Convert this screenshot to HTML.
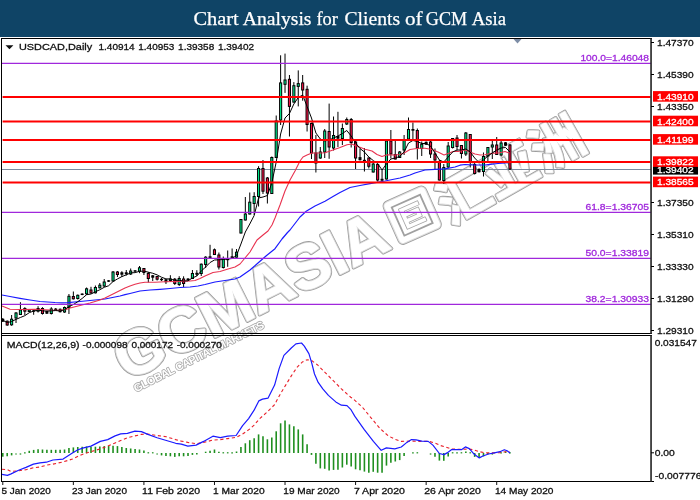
<!DOCTYPE html>
<html lang="en"><head><meta charset="utf-8"><title>Chart Analysis for Clients of GCM Asia</title>
<style>
html,body{margin:0;padding:0;background:#fff;}
body{width:700px;height:500px;overflow:hidden;position:relative;font-family:"Liberation Sans",sans-serif;}
#hdr{position:absolute;left:0;top:0;width:700px;height:37px;background:#0f4466;}
svg{position:absolute;left:0;top:0;}
svg text{font-family:"Liberation Sans",sans-serif;font-size:9.3px;stroke-width:0.3px;}
.wm{font-family:"Liberation Sans","Noto Sans CJK SC",sans-serif;font-weight:bold;fill:#fff;stroke-linejoin:round;paint-order:stroke;}
</style></head><body>
<div id="hdr"></div>
<svg width="700" height="500" viewBox="0 0 700 500">
<text id="title" y="24.7" fill="#fff" style="font-family:'Liberation Serif',serif;font-size:19.7px;stroke:#fff;stroke-width:0.25px"><tspan x="193.4" textLength="45.3" lengthAdjust="spacingAndGlyphs">Chart</tspan> <tspan x="242.7" textLength="68.8" lengthAdjust="spacingAndGlyphs">Analysis</tspan> <tspan x="316.4" textLength="21.4" lengthAdjust="spacingAndGlyphs">for</tspan> <tspan x="344.5" textLength="55.7" lengthAdjust="spacingAndGlyphs">Clients</tspan> <tspan x="404.9" textLength="17.6" lengthAdjust="spacingAndGlyphs">of</tspan> <tspan x="425.8" textLength="41.3" lengthAdjust="spacingAndGlyphs">GCM</tspan> <tspan x="471.7" textLength="34.3" lengthAdjust="spacingAndGlyphs">Asia</tspan></text>
<g id="watermark">
<g transform="translate(127.0,381.4) rotate(-26.7) scale(1.0,1)">
<text class="wm" style="font-size:63px;letter-spacing:0.0px;stroke:#9c9c9c;stroke-width:3.8px" >GCMASIA</text>
<text class="wm" style="font-size:63px;letter-spacing:0.0px;stroke:#dedede;stroke-width:2.2px" >GCMASIA</text>
<text class="wm" style="font-size:63px;letter-spacing:0.0px;stroke:none" >GCMASIA</text>
</g>
<g transform="translate(136.0,392.3) rotate(-26.7)">
<text class="wm" style="font-size:11.0px;letter-spacing:-0.42px;stroke:#a8a8a8;stroke-width:1.6px">GLOBAL CAPITAL MARKETS</text>
</g>
<g transform="translate(412.2,215.2) rotate(-24)">
<rect x="-22" y="-22" width="44" height="44" rx="4" ry="4" fill="#fff" stroke="#9c9c9c" stroke-width="3.8"/>
<rect x="-22" y="-22" width="44" height="44" rx="4" ry="4" fill="#fff" stroke="#dedede" stroke-width="2.2"/>
<rect x="-22" y="-22" width="44" height="44" rx="4" ry="4" fill="#fff"/>
<rect x="-15.5" y="-15.5" width="31" height="31" fill="#fff" stroke="#a0a0a0" stroke-width="1.8"/>
<text class="wm" x="-12.5" y="9.2" style="font-weight:900;font-size:25px;stroke:#a4a4a4;stroke-width:1.6px">巨</text>
</g>
<g transform="translate(450.5,225.5) rotate(-29.5)">
<text class="wm" style="font-weight:700;font-size:52px;letter-spacing:1.5px;stroke:#9c9c9c;stroke-width:3.8px" >汇亚洲</text>
<text class="wm" style="font-weight:700;font-size:52px;letter-spacing:1.5px;stroke:#dedede;stroke-width:2.2px" >汇亚洲</text>
<text class="wm" style="font-weight:700;font-size:52px;letter-spacing:1.5px;stroke:none" >汇亚洲</text>
</g>
</g>
<line x1="2" y1="169.5" x2="651" y2="169.5" stroke="#7c8ca0" stroke-width="1"/>
<g id="candles">
<line x1="2.79" y1="318" x2="2.79" y2="322" stroke="#000" stroke-width="1"/>
<rect x="1.29" y="318.8" width="3" height="2.9" fill="#000"/>
<line x1="7.2" y1="320.5" x2="7.2" y2="325.8" stroke="#000" stroke-width="1"/>
<rect x="5.65" y="320.7" width="3.1" height="4.8" fill="#000"/>
<rect x="6.6" y="321.7" width="1.2" height="2.8" fill="#f01446"/>
<line x1="11.61" y1="315" x2="11.61" y2="325.8" stroke="#000" stroke-width="1"/>
<rect x="10.06" y="318.7" width="3.1" height="6.6" fill="#000"/>
<rect x="11.01" y="319.7" width="1.2" height="4.6" fill="#00e288"/>
<line x1="16.02" y1="312" x2="16.02" y2="323" stroke="#000" stroke-width="1"/>
<rect x="14.47" y="312.5" width="3.1" height="6" fill="#000"/>
<rect x="15.42" y="313.5" width="1.2" height="4" fill="#00e288"/>
<line x1="20.43" y1="302.2" x2="20.43" y2="315" stroke="#000" stroke-width="1"/>
<rect x="18.88" y="309.5" width="3.1" height="5.5" fill="#000"/>
<rect x="19.83" y="310.5" width="1.2" height="3.5" fill="#00e288"/>
<line x1="24.84" y1="307.2" x2="24.84" y2="315" stroke="#000" stroke-width="1"/>
<rect x="23.29" y="308" width="3.1" height="3.7" fill="#000"/>
<rect x="24.24" y="309" width="1.2" height="1.7" fill="#f01446"/>
<line x1="29.25" y1="309.5" x2="29.25" y2="312" stroke="#000" stroke-width="1"/>
<rect x="27.7" y="309.5" width="3.1" height="2.5" fill="#000"/>
<rect x="28.65" y="310.5" width="1.2" height="0.5" fill="#00e288"/>
<line x1="33.66" y1="310" x2="33.66" y2="314.8" stroke="#000" stroke-width="1"/>
<rect x="32.16" y="310.3" width="3" height="1.4" fill="#000"/>
<line x1="38.07" y1="306.2" x2="38.07" y2="312.5" stroke="#000" stroke-width="1"/>
<rect x="36.52" y="308" width="3.1" height="3.7" fill="#000"/>
<rect x="37.47" y="309" width="1.2" height="1.7" fill="#00e288"/>
<line x1="42.48" y1="307.2" x2="42.48" y2="314.6" stroke="#000" stroke-width="1"/>
<rect x="40.93" y="308" width="3.1" height="6" fill="#000"/>
<rect x="41.88" y="309" width="1.2" height="4" fill="#f01446"/>
<line x1="46.89" y1="310.8" x2="46.89" y2="314" stroke="#000" stroke-width="1"/>
<rect x="45.39" y="311" width="3" height="2.7" fill="#000"/>
<line x1="51.3" y1="307.2" x2="51.3" y2="314.5" stroke="#000" stroke-width="1"/>
<rect x="49.75" y="308.5" width="3.1" height="5.5" fill="#000"/>
<rect x="50.7" y="309.5" width="1.2" height="3.5" fill="#00e288"/>
<line x1="55.71" y1="308" x2="55.71" y2="310.5" stroke="#000" stroke-width="1"/>
<rect x="54.21" y="308.6" width="3" height="1.6" fill="#000"/>
<line x1="60.12" y1="308.5" x2="60.12" y2="312.5" stroke="#000" stroke-width="1"/>
<rect x="58.62" y="308.8" width="3" height="3.4" fill="#000"/>
<line x1="64.53" y1="306.5" x2="64.53" y2="312.8" stroke="#000" stroke-width="1"/>
<rect x="62.98" y="307" width="3.1" height="5.5" fill="#000"/>
<rect x="63.93" y="308" width="1.2" height="3.5" fill="#00e288"/>
<line x1="68.94" y1="294" x2="68.94" y2="314" stroke="#000" stroke-width="1"/>
<rect x="67.39" y="295.8" width="3.1" height="12.2" fill="#000"/>
<rect x="68.34" y="296.8" width="1.2" height="10.2" fill="#00e288"/>
<line x1="73.35" y1="291.5" x2="73.35" y2="299.5" stroke="#000" stroke-width="1"/>
<rect x="71.8" y="296" width="3.1" height="3.3" fill="#000"/>
<rect x="72.75" y="297" width="1.2" height="1.3" fill="#f01446"/>
<line x1="77.76" y1="294.5" x2="77.76" y2="299.5" stroke="#000" stroke-width="1"/>
<rect x="76.21" y="294.8" width="3.1" height="4.2" fill="#000"/>
<rect x="77.16" y="295.8" width="1.2" height="2.2" fill="#00e288"/>
<line x1="82.17" y1="293.3" x2="82.17" y2="295.2" stroke="#000" stroke-width="1"/>
<rect x="80.67" y="293.6" width="3" height="1.4" fill="#000"/>
<line x1="86.58" y1="287.5" x2="86.58" y2="295" stroke="#000" stroke-width="1"/>
<rect x="85.03" y="288.3" width="3.1" height="6" fill="#000"/>
<rect x="85.98" y="289.3" width="1.2" height="4" fill="#00e288"/>
<line x1="90.99" y1="286.8" x2="90.99" y2="293.5" stroke="#000" stroke-width="1"/>
<rect x="89.44" y="289.5" width="3.1" height="4" fill="#000"/>
<rect x="90.39" y="290.5" width="1.2" height="2" fill="#f01446"/>
<line x1="95.4" y1="285.5" x2="95.4" y2="293.5" stroke="#000" stroke-width="1"/>
<rect x="93.85" y="287" width="3.1" height="6.3" fill="#000"/>
<rect x="94.8" y="288" width="1.2" height="4.3" fill="#00e288"/>
<line x1="99.81" y1="283" x2="99.81" y2="288.5" stroke="#000" stroke-width="1"/>
<rect x="98.26" y="284.7" width="3.1" height="3.6" fill="#000"/>
<rect x="99.21" y="285.7" width="1.2" height="1.6" fill="#00e288"/>
<line x1="104.22" y1="279" x2="104.22" y2="287" stroke="#000" stroke-width="1"/>
<rect x="102.67" y="281.5" width="3.1" height="5" fill="#000"/>
<rect x="103.62" y="282.5" width="1.2" height="3" fill="#00e288"/>
<line x1="108.63" y1="280" x2="108.63" y2="282" stroke="#000" stroke-width="1"/>
<rect x="107.13" y="280.3" width="3" height="1.4" fill="#000"/>
<line x1="113.04" y1="271" x2="113.04" y2="281.5" stroke="#000" stroke-width="1"/>
<rect x="111.49" y="271.5" width="3.1" height="10" fill="#000"/>
<rect x="112.44" y="272.5" width="1.2" height="8" fill="#00e288"/>
<line x1="117.45" y1="271" x2="117.45" y2="277" stroke="#000" stroke-width="1"/>
<rect x="115.9" y="271.5" width="3.1" height="3.5" fill="#000"/>
<rect x="116.85" y="272.5" width="1.2" height="1.5" fill="#f01446"/>
<line x1="121.86" y1="271.2" x2="121.86" y2="277" stroke="#000" stroke-width="1"/>
<rect x="120.36" y="272.3" width="3" height="2.4" fill="#000"/>
<line x1="126.27" y1="270" x2="126.27" y2="275.5" stroke="#000" stroke-width="1"/>
<rect x="124.77" y="272.3" width="3" height="1.9" fill="#000"/>
<line x1="130.68" y1="268.5" x2="130.68" y2="275" stroke="#000" stroke-width="1"/>
<rect x="129.13" y="270.5" width="3.1" height="4" fill="#000"/>
<rect x="130.08" y="271.5" width="1.2" height="2" fill="#00e288"/>
<line x1="135.09" y1="270" x2="135.09" y2="272" stroke="#000" stroke-width="1"/>
<rect x="133.59" y="270.3" width="3" height="1.4" fill="#000"/>
<line x1="139.5" y1="266" x2="139.5" y2="273.2" stroke="#000" stroke-width="1"/>
<rect x="137.95" y="267.3" width="3.1" height="4.4" fill="#000"/>
<rect x="138.9" y="268.3" width="1.2" height="2.4" fill="#00e288"/>
<line x1="143.91" y1="268" x2="143.91" y2="275" stroke="#000" stroke-width="1"/>
<rect x="142.36" y="268" width="3.1" height="5" fill="#000"/>
<rect x="143.31" y="269" width="1.2" height="3" fill="#f01446"/>
<line x1="148.32" y1="272" x2="148.32" y2="282.5" stroke="#000" stroke-width="1"/>
<rect x="146.77" y="273" width="3.1" height="6" fill="#000"/>
<rect x="147.72" y="274" width="1.2" height="4" fill="#f01446"/>
<line x1="152.73" y1="275" x2="152.73" y2="281" stroke="#000" stroke-width="1"/>
<rect x="151.23" y="275.3" width="3" height="2.4" fill="#000"/>
<line x1="157.14" y1="276" x2="157.14" y2="280.5" stroke="#000" stroke-width="1"/>
<rect x="155.59" y="276" width="3.1" height="3.7" fill="#000"/>
<rect x="156.54" y="277" width="1.2" height="1.7" fill="#f01446"/>
<line x1="161.55" y1="278" x2="161.55" y2="281" stroke="#000" stroke-width="1"/>
<rect x="160.05" y="278.8" width="3" height="1.4" fill="#000"/>
<line x1="165.96" y1="279" x2="165.96" y2="284" stroke="#000" stroke-width="1"/>
<rect x="164.46" y="279.3" width="3" height="2.9" fill="#000"/>
<line x1="170.37" y1="275.2" x2="170.37" y2="282" stroke="#000" stroke-width="1"/>
<rect x="168.82" y="278.5" width="3.1" height="2.5" fill="#000"/>
<rect x="169.77" y="279.5" width="1.2" height="0.5" fill="#00e288"/>
<line x1="174.78" y1="278" x2="174.78" y2="285" stroke="#000" stroke-width="1"/>
<rect x="173.23" y="278.7" width="3.1" height="5.3" fill="#000"/>
<rect x="174.18" y="279.7" width="1.2" height="3.3" fill="#f01446"/>
<line x1="179.19" y1="276.2" x2="179.19" y2="286" stroke="#000" stroke-width="1"/>
<rect x="177.64" y="278" width="3.1" height="7" fill="#000"/>
<rect x="178.59" y="279" width="1.2" height="5" fill="#00e288"/>
<line x1="183.6" y1="276.3" x2="183.6" y2="287" stroke="#000" stroke-width="1"/>
<rect x="182.05" y="278.5" width="3.1" height="5.5" fill="#000"/>
<rect x="183" y="279.5" width="1.2" height="3.5" fill="#f01446"/>
<line x1="188.01" y1="278" x2="188.01" y2="280.5" stroke="#000" stroke-width="1"/>
<rect x="186.51" y="278.6" width="3" height="1.6" fill="#000"/>
<line x1="192.42" y1="270" x2="192.42" y2="279" stroke="#000" stroke-width="1"/>
<rect x="190.87" y="273" width="3.1" height="6" fill="#000"/>
<rect x="191.82" y="274" width="1.2" height="4" fill="#00e288"/>
<line x1="196.83" y1="270.2" x2="196.83" y2="276.2" stroke="#000" stroke-width="1"/>
<rect x="195.33" y="272.8" width="3" height="1.9" fill="#000"/>
<line x1="201.24" y1="263.5" x2="201.24" y2="276" stroke="#000" stroke-width="1"/>
<rect x="199.69" y="263.7" width="3.1" height="10.3" fill="#000"/>
<rect x="200.64" y="264.7" width="1.2" height="8.3" fill="#00e288"/>
<line x1="205.65" y1="256.2" x2="205.65" y2="268" stroke="#000" stroke-width="1"/>
<rect x="204.1" y="256.7" width="3.1" height="8.3" fill="#000"/>
<rect x="205.05" y="257.7" width="1.2" height="6.3" fill="#00e288"/>
<line x1="210.06" y1="244.8" x2="210.06" y2="258" stroke="#000" stroke-width="1"/>
<rect x="208.56" y="256.3" width="3" height="1.7" fill="#000"/>
<line x1="214.47" y1="248.5" x2="214.47" y2="255" stroke="#000" stroke-width="1"/>
<rect x="212.92" y="249.3" width="3.1" height="5.7" fill="#000"/>
<rect x="213.87" y="250.3" width="1.2" height="3.7" fill="#f01446"/>
<line x1="218.88" y1="252.5" x2="218.88" y2="269.5" stroke="#000" stroke-width="1"/>
<rect x="217.33" y="254.5" width="3.1" height="13" fill="#000"/>
<rect x="218.28" y="255.5" width="1.2" height="11" fill="#f01446"/>
<line x1="223.29" y1="256.5" x2="223.29" y2="268.5" stroke="#000" stroke-width="1"/>
<rect x="221.74" y="258.5" width="3.1" height="9.5" fill="#000"/>
<rect x="222.69" y="259.5" width="1.2" height="7.5" fill="#00e288"/>
<line x1="227.7" y1="250.5" x2="227.7" y2="266.8" stroke="#000" stroke-width="1"/>
<rect x="226.2" y="258.3" width="3" height="1.9" fill="#000"/>
<line x1="232.11" y1="248.5" x2="232.11" y2="258" stroke="#000" stroke-width="1"/>
<rect x="230.61" y="256.3" width="3" height="1.7" fill="#000"/>
<line x1="236.52" y1="249" x2="236.52" y2="257.8" stroke="#000" stroke-width="1"/>
<rect x="234.97" y="251.7" width="3.1" height="6" fill="#000"/>
<rect x="235.92" y="252.7" width="1.2" height="4" fill="#00e288"/>
<line x1="240.93" y1="219" x2="240.93" y2="233.5" stroke="#000" stroke-width="1"/>
<rect x="239.38" y="219" width="3.1" height="14.5" fill="#000"/>
<rect x="240.33" y="220" width="1.2" height="12.5" fill="#00e288"/>
<line x1="245.34" y1="197" x2="245.34" y2="220.5" stroke="#000" stroke-width="1"/>
<rect x="243.79" y="213.5" width="3.1" height="7" fill="#000"/>
<rect x="244.74" y="214.5" width="1.2" height="5" fill="#00e288"/>
<line x1="249.75" y1="192.5" x2="249.75" y2="214.5" stroke="#000" stroke-width="1"/>
<rect x="248.2" y="201.7" width="3.1" height="12.8" fill="#000"/>
<rect x="249.15" y="202.7" width="1.2" height="10.8" fill="#00e288"/>
<line x1="254.16" y1="192.2" x2="254.16" y2="215" stroke="#000" stroke-width="1"/>
<rect x="252.61" y="196" width="3.1" height="8" fill="#000"/>
<rect x="253.56" y="197" width="1.2" height="6" fill="#00e288"/>
<line x1="258.57" y1="166.2" x2="258.57" y2="206.5" stroke="#000" stroke-width="1"/>
<rect x="257.02" y="168" width="3.1" height="29" fill="#000"/>
<rect x="257.97" y="169" width="1.2" height="27" fill="#00e288"/>
<line x1="262.98" y1="160" x2="262.98" y2="194" stroke="#000" stroke-width="1"/>
<rect x="261.43" y="168" width="3.1" height="23.7" fill="#000"/>
<rect x="262.38" y="169" width="1.2" height="21.7" fill="#f01446"/>
<line x1="267.39" y1="177" x2="267.39" y2="203.5" stroke="#000" stroke-width="1"/>
<rect x="265.84" y="177.5" width="3.1" height="16" fill="#000"/>
<rect x="266.79" y="178.5" width="1.2" height="14" fill="#f01446"/>
<line x1="271.8" y1="156.5" x2="271.8" y2="194" stroke="#000" stroke-width="1"/>
<rect x="270.25" y="157" width="3.1" height="37" fill="#000"/>
<rect x="271.2" y="158" width="1.2" height="35" fill="#00e288"/>
<line x1="276.21" y1="115.5" x2="276.21" y2="158" stroke="#000" stroke-width="1"/>
<rect x="274.66" y="120.5" width="3.1" height="37.5" fill="#000"/>
<rect x="275.61" y="121.5" width="1.2" height="35.5" fill="#00e288"/>
<line x1="280.62" y1="55.3" x2="280.62" y2="125" stroke="#000" stroke-width="1"/>
<rect x="279.07" y="82.4" width="3.1" height="38.1" fill="#000"/>
<rect x="280.02" y="83.4" width="1.2" height="36.1" fill="#00e288"/>
<line x1="285.03" y1="53.6" x2="285.03" y2="92.9" stroke="#000" stroke-width="1"/>
<rect x="283.48" y="79.5" width="3.1" height="5.3" fill="#000"/>
<rect x="284.43" y="80.5" width="1.2" height="3.3" fill="#00e288"/>
<line x1="289.44" y1="75" x2="289.44" y2="136.5" stroke="#000" stroke-width="1"/>
<rect x="287.89" y="78.8" width="3.1" height="28.1" fill="#000"/>
<rect x="288.84" y="79.8" width="1.2" height="26.1" fill="#f01446"/>
<line x1="293.85" y1="82.1" x2="293.85" y2="102.5" stroke="#000" stroke-width="1"/>
<rect x="292.3" y="85.2" width="3.1" height="17.4" fill="#000"/>
<rect x="293.25" y="86.2" width="1.2" height="15.4" fill="#00e288"/>
<line x1="298.26" y1="70.4" x2="298.26" y2="106.4" stroke="#000" stroke-width="1"/>
<rect x="296.71" y="83.1" width="3.1" height="3.8" fill="#000"/>
<rect x="297.66" y="84.1" width="1.2" height="1.8" fill="#00e288"/>
<line x1="302.67" y1="75" x2="302.67" y2="100.7" stroke="#000" stroke-width="1"/>
<rect x="301.12" y="82.4" width="3.1" height="8.1" fill="#000"/>
<rect x="302.07" y="83.4" width="1.2" height="6.1" fill="#f01446"/>
<line x1="307.08" y1="85.7" x2="307.08" y2="131.5" stroke="#000" stroke-width="1"/>
<rect x="305.53" y="88.8" width="3.1" height="36.2" fill="#000"/>
<rect x="306.48" y="89.8" width="1.2" height="34.2" fill="#f01446"/>
<line x1="311.49" y1="122.5" x2="311.49" y2="159" stroke="#000" stroke-width="1"/>
<rect x="309.94" y="123" width="3.1" height="30.5" fill="#000"/>
<rect x="310.89" y="124" width="1.2" height="28.5" fill="#f01446"/>
<line x1="315.9" y1="135" x2="315.9" y2="172.5" stroke="#000" stroke-width="1"/>
<rect x="314.35" y="152.5" width="3.1" height="11" fill="#000"/>
<rect x="315.3" y="153.5" width="1.2" height="9" fill="#f01446"/>
<line x1="320.31" y1="147" x2="320.31" y2="158.8" stroke="#000" stroke-width="1"/>
<rect x="318.76" y="151.5" width="3.1" height="7" fill="#000"/>
<rect x="319.71" y="152.5" width="1.2" height="5" fill="#00e288"/>
<line x1="324.72" y1="129" x2="324.72" y2="158" stroke="#000" stroke-width="1"/>
<rect x="323.17" y="130.5" width="3.1" height="22" fill="#000"/>
<rect x="324.12" y="131.5" width="1.2" height="20" fill="#00e288"/>
<line x1="329.13" y1="103.6" x2="329.13" y2="158.8" stroke="#000" stroke-width="1"/>
<rect x="327.58" y="131" width="3.1" height="16.5" fill="#000"/>
<rect x="328.53" y="132" width="1.2" height="14.5" fill="#f01446"/>
<line x1="333.54" y1="116.5" x2="333.54" y2="150.5" stroke="#000" stroke-width="1"/>
<rect x="331.99" y="135" width="3.1" height="13.5" fill="#000"/>
<rect x="332.94" y="136" width="1.2" height="11.5" fill="#00e288"/>
<line x1="337.95" y1="111.8" x2="337.95" y2="147" stroke="#000" stroke-width="1"/>
<rect x="336.45" y="136" width="3" height="2.7" fill="#000"/>
<line x1="342.36" y1="123.5" x2="342.36" y2="145" stroke="#000" stroke-width="1"/>
<rect x="340.81" y="128" width="3.1" height="11" fill="#000"/>
<rect x="341.76" y="129" width="1.2" height="9" fill="#00e288"/>
<line x1="346.77" y1="117.5" x2="346.77" y2="125" stroke="#000" stroke-width="1"/>
<rect x="345.22" y="119" width="3.1" height="5.5" fill="#000"/>
<rect x="346.17" y="120" width="1.2" height="3.5" fill="#00e288"/>
<line x1="351.18" y1="118" x2="351.18" y2="147.5" stroke="#000" stroke-width="1"/>
<rect x="349.63" y="119" width="3.1" height="24" fill="#000"/>
<rect x="350.58" y="120" width="1.2" height="22" fill="#f01446"/>
<line x1="355.59" y1="141" x2="355.59" y2="169" stroke="#000" stroke-width="1"/>
<rect x="354.04" y="141.5" width="3.1" height="17" fill="#000"/>
<rect x="354.99" y="142.5" width="1.2" height="15" fill="#f01446"/>
<line x1="360" y1="148.5" x2="360" y2="160.5" stroke="#000" stroke-width="1"/>
<rect x="358.5" y="157.1" width="3" height="3.1" fill="#000"/>
<line x1="364.41" y1="148" x2="364.41" y2="171.5" stroke="#000" stroke-width="1"/>
<rect x="362.91" y="159.8" width="3" height="2.4" fill="#000"/>
<line x1="368.82" y1="157.5" x2="368.82" y2="168.5" stroke="#000" stroke-width="1"/>
<rect x="367.27" y="157.5" width="3.1" height="9.3" fill="#000"/>
<rect x="368.22" y="158.5" width="1.2" height="7.3" fill="#f01446"/>
<line x1="373.23" y1="163" x2="373.23" y2="172.5" stroke="#000" stroke-width="1"/>
<rect x="371.68" y="163.5" width="3.1" height="9" fill="#000"/>
<rect x="372.63" y="164.5" width="1.2" height="7" fill="#00e288"/>
<line x1="377.64" y1="163.5" x2="377.64" y2="181.5" stroke="#000" stroke-width="1"/>
<rect x="376.09" y="164" width="3.1" height="16.5" fill="#000"/>
<rect x="377.04" y="165" width="1.2" height="14.5" fill="#f01446"/>
<line x1="382.05" y1="170" x2="382.05" y2="181" stroke="#000" stroke-width="1"/>
<rect x="380.55" y="178.8" width="3" height="1.9" fill="#000"/>
<line x1="386.46" y1="140.5" x2="386.46" y2="179.5" stroke="#000" stroke-width="1"/>
<rect x="384.91" y="140.5" width="3.1" height="39" fill="#000"/>
<rect x="385.86" y="141.5" width="1.2" height="37" fill="#00e288"/>
<line x1="390.87" y1="130" x2="390.87" y2="158.5" stroke="#000" stroke-width="1"/>
<rect x="389.32" y="140.5" width="3.1" height="14" fill="#000"/>
<rect x="390.27" y="141.5" width="1.2" height="12" fill="#f01446"/>
<line x1="395.28" y1="140.5" x2="395.28" y2="159.5" stroke="#000" stroke-width="1"/>
<rect x="393.73" y="154" width="3.1" height="5.5" fill="#000"/>
<rect x="394.68" y="155" width="1.2" height="3.5" fill="#f01446"/>
<line x1="399.69" y1="151" x2="399.69" y2="158" stroke="#000" stroke-width="1"/>
<rect x="398.14" y="151.5" width="3.1" height="6.5" fill="#000"/>
<rect x="399.09" y="152.5" width="1.2" height="4.5" fill="#00e288"/>
<line x1="404.1" y1="135" x2="404.1" y2="155" stroke="#000" stroke-width="1"/>
<rect x="402.55" y="140" width="3.1" height="10.5" fill="#000"/>
<rect x="403.5" y="141" width="1.2" height="8.5" fill="#00e288"/>
<line x1="408.51" y1="117.5" x2="408.51" y2="141" stroke="#000" stroke-width="1"/>
<rect x="406.96" y="129" width="3.1" height="10.5" fill="#000"/>
<rect x="407.91" y="130" width="1.2" height="8.5" fill="#00e288"/>
<line x1="412.92" y1="122.5" x2="412.92" y2="141" stroke="#000" stroke-width="1"/>
<rect x="411.42" y="129" width="3" height="1.7" fill="#000"/>
<line x1="417.33" y1="128.5" x2="417.33" y2="159.5" stroke="#000" stroke-width="1"/>
<rect x="415.78" y="130" width="3.1" height="18.5" fill="#000"/>
<rect x="416.73" y="131" width="1.2" height="16.5" fill="#f01446"/>
<line x1="421.74" y1="141.5" x2="421.74" y2="156" stroke="#000" stroke-width="1"/>
<rect x="420.19" y="143.8" width="3.1" height="5.2" fill="#000"/>
<rect x="421.14" y="144.8" width="1.2" height="3.2" fill="#00e288"/>
<line x1="426.15" y1="141.5" x2="426.15" y2="145" stroke="#000" stroke-width="1"/>
<rect x="424.65" y="141.8" width="3" height="2.9" fill="#000"/>
<line x1="430.56" y1="141" x2="430.56" y2="158" stroke="#000" stroke-width="1"/>
<rect x="429.01" y="141.5" width="3.1" height="13" fill="#000"/>
<rect x="429.96" y="142.5" width="1.2" height="11" fill="#f01446"/>
<line x1="434.97" y1="148.5" x2="434.97" y2="170" stroke="#000" stroke-width="1"/>
<rect x="433.42" y="153.5" width="3.1" height="7" fill="#000"/>
<rect x="434.37" y="154.5" width="1.2" height="5" fill="#f01446"/>
<line x1="439.38" y1="160" x2="439.38" y2="180.5" stroke="#000" stroke-width="1"/>
<rect x="437.83" y="161" width="3.1" height="19.5" fill="#000"/>
<rect x="438.78" y="162" width="1.2" height="17.5" fill="#f01446"/>
<line x1="443.79" y1="164" x2="443.79" y2="184" stroke="#000" stroke-width="1"/>
<rect x="442.24" y="167" width="3.1" height="14" fill="#000"/>
<rect x="443.19" y="168" width="1.2" height="12" fill="#00e288"/>
<line x1="448.2" y1="142" x2="448.2" y2="168" stroke="#000" stroke-width="1"/>
<rect x="446.65" y="145.5" width="3.1" height="22" fill="#000"/>
<rect x="447.6" y="146.5" width="1.2" height="20" fill="#00e288"/>
<line x1="452.61" y1="138" x2="452.61" y2="148.5" stroke="#000" stroke-width="1"/>
<rect x="451.06" y="138" width="3.1" height="10" fill="#000"/>
<rect x="452.01" y="139" width="1.2" height="8" fill="#00e288"/>
<line x1="457.02" y1="135" x2="457.02" y2="150.5" stroke="#000" stroke-width="1"/>
<rect x="455.47" y="137.5" width="3.1" height="9.5" fill="#000"/>
<rect x="456.42" y="138.5" width="1.2" height="7.5" fill="#f01446"/>
<line x1="461.43" y1="145" x2="461.43" y2="158.5" stroke="#000" stroke-width="1"/>
<rect x="459.88" y="145" width="3.1" height="9" fill="#000"/>
<rect x="460.83" y="146" width="1.2" height="7" fill="#f01446"/>
<line x1="465.84" y1="132" x2="465.84" y2="156" stroke="#000" stroke-width="1"/>
<rect x="464.29" y="132.5" width="3.1" height="22" fill="#000"/>
<rect x="465.24" y="133.5" width="1.2" height="20" fill="#00e288"/>
<line x1="470.25" y1="134" x2="470.25" y2="167.5" stroke="#000" stroke-width="1"/>
<rect x="468.7" y="134" width="3.1" height="28" fill="#000"/>
<rect x="469.65" y="135" width="1.2" height="26" fill="#f01446"/>
<line x1="474.66" y1="163" x2="474.66" y2="174.5" stroke="#000" stroke-width="1"/>
<rect x="473.11" y="164" width="3.1" height="10" fill="#000"/>
<rect x="474.06" y="165" width="1.2" height="8" fill="#f01446"/>
<line x1="479.07" y1="168.5" x2="479.07" y2="172.5" stroke="#000" stroke-width="1"/>
<rect x="477.57" y="168.8" width="3" height="3.4" fill="#000"/>
<line x1="483.48" y1="152.5" x2="483.48" y2="176.5" stroke="#000" stroke-width="1"/>
<rect x="481.93" y="156" width="3.1" height="16" fill="#000"/>
<rect x="482.88" y="157" width="1.2" height="14" fill="#00e288"/>
<line x1="487.89" y1="147" x2="487.89" y2="161" stroke="#000" stroke-width="1"/>
<rect x="486.34" y="147" width="3.1" height="9.5" fill="#000"/>
<rect x="487.29" y="148" width="1.2" height="7.5" fill="#00e288"/>
<line x1="492.3" y1="140.5" x2="492.3" y2="159" stroke="#000" stroke-width="1"/>
<rect x="490.75" y="144.5" width="3.1" height="3" fill="#000"/>
<rect x="491.7" y="145.5" width="1.2" height="1" fill="#00e288"/>
<line x1="496.71" y1="137" x2="496.71" y2="155" stroke="#000" stroke-width="1"/>
<rect x="495.16" y="144.5" width="3.1" height="10.5" fill="#000"/>
<rect x="496.11" y="145.5" width="1.2" height="8.5" fill="#f01446"/>
<line x1="501.12" y1="141" x2="501.12" y2="156.5" stroke="#000" stroke-width="1"/>
<rect x="499.57" y="142.5" width="3.1" height="13" fill="#000"/>
<rect x="500.52" y="143.5" width="1.2" height="11" fill="#00e288"/>
<line x1="505.53" y1="142" x2="505.53" y2="146" stroke="#000" stroke-width="1"/>
<rect x="504.03" y="142.3" width="3" height="3.4" fill="#000"/>
<line x1="509.94" y1="144" x2="509.94" y2="170" stroke="#000" stroke-width="1"/>
<rect x="508.39" y="144.5" width="3.1" height="25" fill="#000"/>
<rect x="509.34" y="145.5" width="1.2" height="23" fill="#f01446"/>
</g>
<polyline id="ma-blue" fill="none" stroke="#1a1aff" stroke-width="1.2" stroke-linejoin="round" points="2,295 10,296.5 20,298.3 30,300 40,301.5 55,302.5 62,302.8 68,302.6 80,301.5 95,300 105,299 115,297 120,296 125,294.7 130,293.5 140,291 150,290 160,289.3 170,288.5 180,287.5 190,287 198,286 205,284.5 215,282 225,280.5 235,279 240,277 245,273.5 250,270 258,263 266,256 275,248.7 282,239 287.5,232.5 290,230 295,223.5 300,217 306.2,211.2 315,206 325,201.2 333,196.5 340,192.5 350,187.5 360,185.5 370,183.6 385,181 400,178 410,175 415,173 425,170 435,169.3 445,168.8 455,167 460,165.2 465,164.5 475,165 485,165 490,164.3 498,163.5 505,162.8 510,162.3"/>
<polyline id="ma-red" fill="none" stroke="#e8324f" stroke-width="1.1" stroke-linejoin="round" points="2,306 7,308 10,309.2 20,309.5 35,309.3 50,310 60,310.2 66,309.5 70,308 80,305.5 90,303 100,300 105,298 115,293 125,288 130,286 135,284.3 140,283 145,282.2 155,282.2 165,281.8 175,281.5 185,281.1 190,281 195,280.5 200,278.5 205,276 213,272.5 220,271.5 228,269 235,267 240,264 245,258 250,252 257,240 263,235 268,231 272,225 275,218 280,205 285,191 290,180 295,171 300,161 303,157 307,155 312,153 320,153 325,152.7 333,150 340,147.5 347,144.7 352,144 355,145.5 358,146.5 365,149.3 372,151 377,154.5 382,156.5 387,154.8 395,155 400,154.5 405,152.5 410,149.5 415,148.7 420,148.3 425,148.3 432,149.5 438,152 444,155 448,153.5 453,151.5 458,151.5 465,150 470,152 475,154 480,155 485,154.8 490,153.5 500,152.8 505,151.5 509,153"/>
<polyline id="ma-black" fill="none" stroke="#000" stroke-width="1" stroke-linejoin="round" points="2.79,320.25 7.2,322.62 11.61,321.48 16.02,319.36 20.43,317.49 24.84,315.68 29.25,312.68 33.66,311.04 38.07,310.14 42.48,310.84 46.89,311.07 51.3,310.87 55.71,310.55 60.12,310.95 64.53,309.75 68.94,306.54 73.35,304.5 77.76,301.68 82.17,298.44 86.58,294.7 90.99,294.04 95.4,291.78 99.81,289.76 104.22,287.3 108.63,285.74 113.04,281.54 117.45,278.94 121.86,276.6 126.27,274.85 130.68,272.85 135.09,272.65 139.5,271.31 143.91,271.11 148.32,272.16 152.73,273.26 157.14,274.9 161.55,277.24 165.96,278.89 170.37,278.99 174.78,280.39 179.19,280.25 183.6,281.05 188.01,280.78 192.42,278 196.83,276 201.24,271 205.65,267 210.06,262.5 214.47,260 218.88,259.8 223.29,259.5 227.7,259 232.11,258.5 236.52,255.5 240.93,244 245.34,232 249.75,224 254.16,215.5 258.57,198 262.98,197 267.39,195.5 271.8,183 276.21,162 280.62,134 285.03,118 289.44,113.5 293.85,104 298.26,97.5 302.67,95 307.08,106.5 311.49,118 315.9,133 320.31,139 324.72,141 329.13,140 333.54,138 337.95,136 342.36,133.5 346.77,130.5 351.18,136 355.59,143 360,148.5 364.41,152 368.82,157 373.23,160.5 377.64,163.5 382.05,170 386.46,164 390.87,159 395.28,158 399.69,156.5 404.1,152 408.51,143 412.92,140.5 417.33,141.5 421.74,143.5 426.15,143.5 430.56,146 434.97,153 439.38,160 443.79,162 448.2,157 452.61,152 457.02,150 461.43,150 465.84,149 470.25,152 474.66,158 479.07,162.5 483.48,160 487.89,156 492.3,153 496.71,150 501.12,148 505.53,147.5 509.94,152"/>
<g id="fib" stroke="#a028dc" stroke-width="1.3" fill="none">
<line x1="2" y1="63.35" x2="651" y2="63.35"/>
<line x1="2" y1="212.35" x2="651" y2="212.35"/>
<line x1="2" y1="258.35" x2="651" y2="258.35"/>
<line x1="2" y1="304.35" x2="651" y2="304.35"/>
</g>
<g id="hlines" stroke="#ff0000" stroke-width="2" fill="none">
<line x1="2.6" y1="97.1" x2="650.5" y2="97.1"/>
<line x1="2.6" y1="121.45" x2="650.5" y2="121.45"/>
<line x1="2.6" y1="139.95" x2="650.5" y2="139.95"/>
<line x1="2.6" y1="162.05" x2="650.5" y2="162.05"/>
<line x1="2.6" y1="182.6" x2="650.5" y2="182.6"/>
</g>
<g id="macd">
<g stroke="#1f8f1f" stroke-width="1.6">
<line x1="2.79" y1="453" x2="2.79" y2="456.7"/>
<line x1="7.2" y1="453" x2="7.2" y2="456.3"/>
<line x1="11.61" y1="453" x2="11.61" y2="455.4"/>
<line x1="16.02" y1="453.4" x2="16.02" y2="454.6"/>
<line x1="20.43" y1="453.4" x2="20.43" y2="454.6"/>
<line x1="24.84" y1="453.4" x2="24.84" y2="452.2"/>
<line x1="29.25" y1="453" x2="29.25" y2="450.8"/>
<line x1="33.66" y1="453" x2="33.66" y2="449.9"/>
<line x1="38.07" y1="453" x2="38.07" y2="449.3"/>
<line x1="42.48" y1="453" x2="42.48" y2="449.5"/>
<line x1="46.89" y1="453" x2="46.89" y2="449.8"/>
<line x1="51.3" y1="453" x2="51.3" y2="449.8"/>
<line x1="55.71" y1="453" x2="55.71" y2="449.8"/>
<line x1="60.12" y1="453" x2="60.12" y2="449.8"/>
<line x1="64.53" y1="453" x2="64.53" y2="449.5"/>
<line x1="68.94" y1="453" x2="68.94" y2="448"/>
<line x1="73.35" y1="453" x2="73.35" y2="447.4"/>
<line x1="77.76" y1="453" x2="77.76" y2="447"/>
<line x1="82.17" y1="453" x2="82.17" y2="446.7"/>
<line x1="86.58" y1="453" x2="86.58" y2="446.5"/>
<line x1="90.99" y1="453" x2="90.99" y2="446.7"/>
<line x1="95.4" y1="453" x2="95.4" y2="446.7"/>
<line x1="99.81" y1="453" x2="99.81" y2="446.5"/>
<line x1="104.22" y1="453" x2="104.22" y2="446.1"/>
<line x1="108.63" y1="453" x2="108.63" y2="446"/>
<line x1="113.04" y1="453" x2="113.04" y2="445.8"/>
<line x1="117.45" y1="453" x2="117.45" y2="446.1"/>
<line x1="121.86" y1="453" x2="121.86" y2="447"/>
<line x1="126.27" y1="453" x2="126.27" y2="448"/>
<line x1="130.68" y1="453" x2="130.68" y2="448.5"/>
<line x1="135.09" y1="453" x2="135.09" y2="449"/>
<line x1="139.5" y1="453" x2="139.5" y2="449.5"/>
<line x1="143.91" y1="453" x2="143.91" y2="450.4"/>
<line x1="148.32" y1="453.4" x2="148.32" y2="452.2"/>
<line x1="152.73" y1="453.4" x2="152.73" y2="452.2"/>
<line x1="157.14" y1="453.4" x2="157.14" y2="454.6"/>
<line x1="161.55" y1="453" x2="161.55" y2="455.4"/>
<line x1="165.96" y1="453" x2="165.96" y2="456"/>
<line x1="170.37" y1="453" x2="170.37" y2="456.3"/>
<line x1="174.78" y1="453" x2="174.78" y2="456.9"/>
<line x1="179.19" y1="453" x2="179.19" y2="456.3"/>
<line x1="183.6" y1="453" x2="183.6" y2="456.3"/>
<line x1="188.01" y1="453" x2="188.01" y2="456"/>
<line x1="192.42" y1="453" x2="192.42" y2="454.9"/>
<line x1="196.83" y1="453" x2="196.83" y2="454.5"/>
<line x1="205.65" y1="453" x2="205.65" y2="451.7"/>
<line x1="210.06" y1="453" x2="210.06" y2="450.8"/>
<line x1="214.47" y1="453" x2="214.47" y2="449.5"/>
<line x1="218.88" y1="453" x2="218.88" y2="451.7"/>
<line x1="223.29" y1="453.4" x2="223.29" y2="452.2"/>
<line x1="227.7" y1="453.4" x2="227.7" y2="452.2"/>
<line x1="232.11" y1="453.4" x2="232.11" y2="452.2"/>
<line x1="236.52" y1="453" x2="236.52" y2="451.5"/>
<line x1="240.93" y1="453" x2="240.93" y2="447"/>
<line x1="245.34" y1="453" x2="245.34" y2="443.3"/>
<line x1="249.75" y1="453" x2="249.75" y2="440.2"/>
<line x1="254.16" y1="453" x2="254.16" y2="438.3"/>
<line x1="258.57" y1="453" x2="258.57" y2="434.4"/>
<line x1="262.98" y1="453" x2="262.98" y2="436.3"/>
<line x1="267.39" y1="453" x2="267.39" y2="439.3"/>
<line x1="271.8" y1="453" x2="271.8" y2="437.4"/>
<line x1="276.21" y1="453" x2="276.21" y2="431.3"/>
<line x1="280.62" y1="453" x2="280.62" y2="423.3"/>
<line x1="285.03" y1="453" x2="285.03" y2="420.5"/>
<line x1="289.44" y1="453" x2="289.44" y2="424.4"/>
<line x1="293.85" y1="453" x2="293.85" y2="426.3"/>
<line x1="298.26" y1="453" x2="298.26" y2="429.4"/>
<line x1="302.67" y1="453" x2="302.67" y2="434.4"/>
<line x1="307.08" y1="453" x2="307.08" y2="444.3"/>
<line x1="311.49" y1="453" x2="311.49" y2="454.9"/>
<line x1="315.9" y1="453" x2="315.9" y2="463.8"/>
<line x1="320.31" y1="453" x2="320.31" y2="468.4"/>
<line x1="324.72" y1="453" x2="324.72" y2="468.8"/>
<line x1="329.13" y1="453" x2="329.13" y2="470.6"/>
<line x1="333.54" y1="453" x2="333.54" y2="469.9"/>
<line x1="337.95" y1="453" x2="337.95" y2="469.7"/>
<line x1="342.36" y1="453" x2="342.36" y2="467.5"/>
<line x1="346.77" y1="453" x2="346.77" y2="464.7"/>
<line x1="351.18" y1="453" x2="351.18" y2="466.6"/>
<line x1="355.59" y1="453" x2="355.59" y2="469.3"/>
<line x1="360" y1="453" x2="360" y2="470.3"/>
<line x1="364.41" y1="453" x2="364.41" y2="471.6"/>
<line x1="368.82" y1="453" x2="368.82" y2="472.7"/>
<line x1="373.23" y1="453" x2="373.23" y2="471.8"/>
<line x1="377.64" y1="453" x2="377.64" y2="472.7"/>
<line x1="382.05" y1="453" x2="382.05" y2="472.7"/>
<line x1="386.46" y1="453" x2="386.46" y2="465.6"/>
<line x1="390.87" y1="453" x2="390.87" y2="462.8"/>
<line x1="395.28" y1="453" x2="395.28" y2="461.5"/>
<line x1="399.69" y1="453" x2="399.69" y2="460.1"/>
<line x1="404.1" y1="453" x2="404.1" y2="456"/>
<line x1="412.92" y1="453.4" x2="412.92" y2="452.2"/>
<line x1="417.33" y1="453.4" x2="417.33" y2="452.2"/>
<line x1="430.56" y1="453.4" x2="430.56" y2="454.6"/>
<line x1="434.97" y1="453" x2="434.97" y2="456.7"/>
<line x1="439.38" y1="453" x2="439.38" y2="460.6"/>
<line x1="443.79" y1="453" x2="443.79" y2="460.8"/>
<line x1="448.2" y1="453" x2="448.2" y2="456.6"/>
<line x1="452.61" y1="453.4" x2="452.61" y2="452.2"/>
<line x1="457.02" y1="453.4" x2="457.02" y2="452.2"/>
<line x1="461.43" y1="453.4" x2="461.43" y2="452.2"/>
<line x1="465.84" y1="453" x2="465.84" y2="451.5"/>
<line x1="470.25" y1="453.4" x2="470.25" y2="452.2"/>
<line x1="474.66" y1="453" x2="474.66" y2="456.9"/>
<line x1="479.07" y1="453" x2="479.07" y2="457.9"/>
<line x1="483.48" y1="453" x2="483.48" y2="456.4"/>
<line x1="487.89" y1="453" x2="487.89" y2="454.3"/>
<line x1="492.3" y1="453.4" x2="492.3" y2="454.6"/>
<line x1="501.12" y1="453.4" x2="501.12" y2="452.2"/>
<line x1="505.53" y1="453" x2="505.53" y2="451.5"/>
<line x1="509.94" y1="453.4" x2="509.94" y2="452.2"/>
</g>
<polyline fill="none" stroke="#e8202a" stroke-width="1.1" stroke-dasharray="3.2 2.6" points="1.9,469.3 7.4,469.7 11.1,471.5 18.6,470.8 26,469.7 33.4,467.8 39.9,467 46.4,465.2 52.9,464.1 63.1,461.9 72.4,459.1 78,456.3 83.6,454 91,451.6 100.3,448.9 107.7,446.1 115.1,442.9 120.7,440.5 127.4,437.7 134.9,435.9 141.4,434.4 147.9,434 157.1,435.5 166.4,436.8 175.7,439.6 181.3,441.1 187.8,442.4 196.1,443.7 203.6,442.4 212.9,440.1 220.3,439.6 227.7,438.6 236.1,437.3 242.6,434 250,428.8 254.1,425.1 259.7,418.6 267.1,412.1 274.6,404.6 280.1,394.4 285.7,385.1 291.3,375.9 296.9,367.5 302.4,361.9 307.1,359.7 311.7,360.6 317.3,364.7 324.7,372.1 334,381.4 341.4,388.9 350.7,397.2 353,398.7 362.3,407.1 370.6,417.3 379.9,428.4 388.3,435.9 395.7,439.6 401.3,441.4 410.6,441.1 419.9,441.4 429.1,441.4 436.6,443.7 440,445.4 445.7,447.1 451.4,449 461.4,449.3 468.6,449 474.3,450 479.3,451.7 485.7,452.9 494.3,452.9 500,452.6 505.7,451.7 510,452.1"/>
<polyline fill="none" stroke="#1a1aff" stroke-width="1.2" stroke-linejoin="round" points="1.9,474.3 7.4,475.4 11.1,473.9 18.6,470.2 26,467.4 33.4,464.1 39.9,462.8 46.4,462.2 52.9,460 63.1,459.1 72.4,452.9 78,449.8 83.6,447.9 91,446.1 100.3,441.4 107.7,439.6 115.1,435.9 120.7,433.9 127.4,433.4 134.9,431.2 141.4,431.6 147.9,434.4 157.1,437.7 166.4,440.5 175.7,443.3 181.3,444.2 187.8,446.1 196.1,445.1 203.6,441.4 212.9,436.2 220.3,437.7 227.7,436.2 236.1,435.5 242.6,425.6 248.6,418.6 254.1,410.2 258.8,400.9 262.5,399.1 268.1,398.1 274.6,385.1 279.2,368.4 283.9,355.4 291.3,348 295.9,343.9 301.5,343 304.3,346.1 308.9,353.6 311.7,362.9 314.5,374 318.2,382.4 322.8,388.9 328.4,395.4 335.8,401.9 341.4,405.2 347,405.6 350.7,409.3 354.9,416.4 364.1,429.4 373.4,441.4 381.2,450.3 386.4,447.9 394.8,448.9 401.3,447 406.9,442.4 411.5,439.6 416.1,439.9 421.7,441.1 428.2,441.4 432.9,445.1 439.4,453.5 444,454.6 447.1,452.9 451.4,449.7 461.4,449.7 465.4,446.9 469.3,448.6 474.3,454.3 479.3,457.9 482.9,456 488.6,454 494.3,452.9 500,451.7 504.3,449.7 507.1,450.7 510,452.9"/>
</g>
<g id="frame" stroke="#000" stroke-width="1" fill="none">
<line x1="1.5" y1="38" x2="1.5" y2="482"/>
<line x1="1" y1="38.5" x2="652" y2="38.5"/>
<line x1="1" y1="333.5" x2="652" y2="333.5"/>
<line x1="1" y1="335.5" x2="652" y2="335.5"/>
<line x1="1" y1="481.5" x2="654" y2="481.5"/>
<line x1="651.05" y1="38" x2="651.05" y2="334" stroke="#222" stroke-width="1.6"/>
<line x1="651.05" y1="335" x2="651.05" y2="482" stroke="#222" stroke-width="1.6"/>
</g>
<polygon points="513.5,39 521.5,39 517.5,43.5" fill="#7d8da6"/>
<g id="yaxis">
<line x1="651" y1="42.5" x2="654" y2="42.5" stroke="#000" stroke-width="1"/>
<line x1="651" y1="74.5" x2="654" y2="74.5" stroke="#000" stroke-width="1"/>
<line x1="651" y1="106.5" x2="654" y2="106.5" stroke="#000" stroke-width="1"/>
<line x1="651" y1="202.5" x2="654" y2="202.5" stroke="#000" stroke-width="1"/>
<line x1="651" y1="234.5" x2="654" y2="234.5" stroke="#000" stroke-width="1"/>
<line x1="651" y1="266.5" x2="654" y2="266.5" stroke="#000" stroke-width="1"/>
<line x1="651" y1="298.5" x2="654" y2="298.5" stroke="#000" stroke-width="1"/>
<line x1="651" y1="330.5" x2="654" y2="330.5" stroke="#000" stroke-width="1"/>
<line x1="651" y1="452.8" x2="654" y2="452.8" stroke="#000" stroke-width="1"/>
<text x="657" y="45.9" textLength="36.6" lengthAdjust="spacingAndGlyphs" fill="#111" stroke="#111">1.47370</text>
<text x="657" y="77.9" textLength="36.6" lengthAdjust="spacingAndGlyphs" fill="#111" stroke="#111">1.45390</text>
<text x="657" y="109.9" textLength="36.6" lengthAdjust="spacingAndGlyphs" fill="#111" stroke="#111">1.43350</text>
<text x="657" y="205.9" textLength="36.6" lengthAdjust="spacingAndGlyphs" fill="#111" stroke="#111">1.37350</text>
<text x="657" y="237.9" textLength="36.6" lengthAdjust="spacingAndGlyphs" fill="#111" stroke="#111">1.35310</text>
<text x="657" y="269.9" textLength="36.6" lengthAdjust="spacingAndGlyphs" fill="#111" stroke="#111">1.33330</text>
<text x="657" y="301.9" textLength="36.6" lengthAdjust="spacingAndGlyphs" fill="#111" stroke="#111">1.31290</text>
<text x="657" y="333.9" textLength="36.6" lengthAdjust="spacingAndGlyphs" fill="#111" stroke="#111">1.29310</text>
<text x="654.7" y="456.2" textLength="20.1" lengthAdjust="spacingAndGlyphs" fill="#111" stroke="#111">0.00</text>
<text x="654.7" y="346" textLength="42.1" lengthAdjust="spacingAndGlyphs" fill="#111" stroke="#111">0.031547</text>
<text x="655.1" y="479.4" textLength="46.3" lengthAdjust="spacingAndGlyphs" fill="#111" stroke="#111">-0.007776</text>
<rect x="653" y="164.2" width="45" height="10.4" fill="#000"/>
<text x="657" y="172.8" textLength="36.6" lengthAdjust="spacingAndGlyphs" fill="#fff" stroke="#fff">1.39402</text>
<rect x="653" y="91.1" width="45" height="10.6" fill="#ff0000"/>
<text x="657" y="99.9" textLength="36.6" lengthAdjust="spacingAndGlyphs" fill="#fff" stroke="#fff">1.43910</text>
<rect x="653" y="115.7" width="45" height="10.6" fill="#ff0000"/>
<text x="657" y="124.5" textLength="36.6" lengthAdjust="spacingAndGlyphs" fill="#fff" stroke="#fff">1.42400</text>
<rect x="653" y="134.1" width="45" height="10.6" fill="#ff0000"/>
<text x="657" y="142.9" textLength="36.6" lengthAdjust="spacingAndGlyphs" fill="#fff" stroke="#fff">1.41199</text>
<rect x="653" y="156.3" width="45" height="10.6" fill="#ff0000"/>
<text x="657" y="165.1" textLength="36.6" lengthAdjust="spacingAndGlyphs" fill="#fff" stroke="#fff">1.39822</text>
<rect x="653" y="176.6" width="45" height="10.6" fill="#ff0000"/>
<text x="657" y="185.4" textLength="36.6" lengthAdjust="spacingAndGlyphs" fill="#fff" stroke="#fff">1.38565</text>
</g>
<g id="fiblabels">
<text x="580.4" y="61.4" textLength="68.6" lengthAdjust="spacingAndGlyphs" fill="#a028dc" stroke="#a028dc" stroke-width="0.15">100.0=1.46048</text>
<text x="585.5" y="210.3" textLength="63.5" lengthAdjust="spacingAndGlyphs" fill="#a028dc" stroke="#a028dc" stroke-width="0.15">61.8=1.36705</text>
<text x="585.5" y="256.4" textLength="63.5" lengthAdjust="spacingAndGlyphs" fill="#a028dc" stroke="#a028dc" stroke-width="0.15">50.0=1.33819</text>
<text x="585.5" y="302.3" textLength="63.5" lengthAdjust="spacingAndGlyphs" fill="#a028dc" stroke="#a028dc" stroke-width="0.15">38.2=1.30933</text>
</g>
<polygon points="5.5,45.2 13.4,45.2 9.45,49.2" fill="#111"/>
<text x="19" y="49.8" textLength="73.2" lengthAdjust="spacingAndGlyphs" fill="#111" stroke="#111">USDCAD,Daily</text>
<text y="49.8" fill="#111" stroke="#111"><tspan x="98.5" textLength="36.1" lengthAdjust="spacingAndGlyphs">1.40914</tspan> <tspan x="138.3" textLength="36.1" lengthAdjust="spacingAndGlyphs">1.40953</tspan> <tspan x="178.1" textLength="36.1" lengthAdjust="spacingAndGlyphs">1.39358</tspan> <tspan x="217.9" textLength="36.1" lengthAdjust="spacingAndGlyphs">1.39402</tspan></text>
<text y="347.8" fill="#111" stroke="#111" stroke-width="0.2"><tspan x="6.7" textLength="72.9" lengthAdjust="spacingAndGlyphs">MACD(12,26,9)</tspan> <tspan x="82.6" textLength="44.9" lengthAdjust="spacingAndGlyphs">-0.000098</tspan> <tspan x="131.4" textLength="41.6" lengthAdjust="spacingAndGlyphs">0.000172</tspan> <tspan x="176.7" textLength="45.1" lengthAdjust="spacingAndGlyphs">-0.000270</tspan></text>
<g id="xaxis">
<line x1="2.79" y1="481" x2="2.79" y2="485" stroke="#111" stroke-width="1"/>
<text x="1.5" y="494.3" textLength="49.3" lengthAdjust="spacingAndGlyphs" fill="#111" stroke="#111">5 Jan 2020</text>
<line x1="73.35" y1="481" x2="73.35" y2="485" stroke="#111" stroke-width="1"/>
<text x="71.9" y="494.3" textLength="55.1" lengthAdjust="spacingAndGlyphs" fill="#111" stroke="#111">23 Jan 2020</text>
<line x1="143.91" y1="481" x2="143.91" y2="485" stroke="#111" stroke-width="1"/>
<text x="142.1" y="494.3" textLength="58" lengthAdjust="spacingAndGlyphs" fill="#111" stroke="#111">11 Feb 2020</text>
<line x1="214.47" y1="481" x2="214.47" y2="485" stroke="#111" stroke-width="1"/>
<text x="213" y="494.3" textLength="51.6" lengthAdjust="spacingAndGlyphs" fill="#111" stroke="#111">1 Mar 2020</text>
<line x1="285.03" y1="481" x2="285.03" y2="485" stroke="#111" stroke-width="1"/>
<text x="283.3" y="494.3" textLength="56.4" lengthAdjust="spacingAndGlyphs" fill="#111" stroke="#111">19 Mar 2020</text>
<line x1="355.59" y1="481" x2="355.59" y2="485" stroke="#111" stroke-width="1"/>
<text x="353.9" y="494.3" textLength="51" lengthAdjust="spacingAndGlyphs" fill="#111" stroke="#111">7 Apr 2020</text>
<line x1="426.15" y1="481" x2="426.15" y2="485" stroke="#111" stroke-width="1"/>
<text x="424.2" y="494.3" textLength="56.7" lengthAdjust="spacingAndGlyphs" fill="#111" stroke="#111">26 Apr 2020</text>
<line x1="496.71" y1="481" x2="496.71" y2="485" stroke="#111" stroke-width="1"/>
<text x="495" y="494.3" textLength="58.4" lengthAdjust="spacingAndGlyphs" fill="#111" stroke="#111">14 May 2020</text>
</g>
</svg>
</body></html>
